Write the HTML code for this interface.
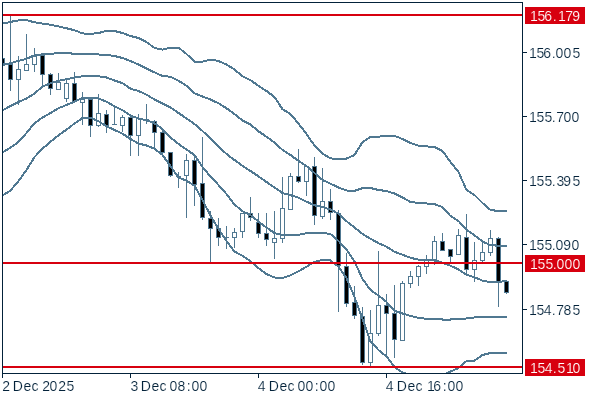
<!DOCTYPE html>
<html><head><meta charset="utf-8"><style>
html,body{margin:0;padding:0;background:#fff;width:600px;height:400px;overflow:hidden;}
svg{display:block;will-change:transform;}
text{font-family:"Liberation Sans",sans-serif;}
</style></head><body>
<svg width="600" height="400" viewBox="0 0 600 400">
<rect width="600" height="400" fill="#ffffff"/>
<defs><clipPath id="c"><rect x="3" y="3" width="519" height="370"/></clipPath></defs>
<g clip-path="url(#c)">
<rect x="2" y="56" width="1" height="11" fill="#507891"/>
<rect x="0" y="58" width="5" height="6" fill="#507891"/>
<rect x="1" y="59" width="3" height="4" fill="#000000"/>
<rect x="10" y="16" width="1" height="75" fill="#507891"/>
<rect x="8" y="64" width="5" height="16" fill="#507891"/>
<rect x="9" y="65" width="3" height="14" fill="#000000"/>
<rect x="18" y="56" width="1" height="49" fill="#507891"/>
<rect x="16" y="69" width="5" height="11" fill="#507891"/>
<rect x="17" y="70" width="3" height="9" fill="#ffffff"/>
<rect x="26" y="34" width="1" height="37" fill="#507891"/>
<rect x="24" y="64" width="5" height="7" fill="#507891"/>
<rect x="25" y="65" width="3" height="5" fill="#ffffff"/>
<rect x="34" y="48" width="1" height="24" fill="#507891"/>
<rect x="32" y="56" width="5" height="9" fill="#507891"/>
<rect x="33" y="57" width="3" height="7" fill="#ffffff"/>
<rect x="42" y="54" width="1" height="32" fill="#507891"/>
<rect x="40" y="55" width="5" height="20" fill="#507891"/>
<rect x="41" y="56" width="3" height="18" fill="#000000"/>
<rect x="50" y="73" width="1" height="22" fill="#507891"/>
<rect x="48" y="74" width="5" height="15" fill="#507891"/>
<rect x="49" y="75" width="3" height="13" fill="#000000"/>
<rect x="58" y="73" width="1" height="17" fill="#507891"/>
<rect x="56" y="82" width="5" height="8" fill="#507891"/>
<rect x="57" y="83" width="3" height="6" fill="#ffffff"/>
<rect x="66" y="80" width="1" height="22" fill="#507891"/>
<rect x="64" y="83" width="5" height="16" fill="#507891"/>
<rect x="65" y="84" width="3" height="14" fill="#ffffff"/>
<rect x="74" y="72" width="1" height="31" fill="#507891"/>
<rect x="72" y="83" width="5" height="19" fill="#507891"/>
<rect x="73" y="84" width="3" height="17" fill="#000000"/>
<rect x="82" y="92" width="1" height="33" fill="#507891"/>
<rect x="80" y="99" width="5" height="4" fill="#507891"/>
<rect x="81" y="100" width="3" height="2" fill="#ffffff"/>
<rect x="90" y="99" width="1" height="38" fill="#507891"/>
<rect x="88" y="99" width="5" height="27" fill="#507891"/>
<rect x="89" y="100" width="3" height="25" fill="#000000"/>
<rect x="98" y="94" width="1" height="33" fill="#507891"/>
<rect x="96" y="113" width="5" height="13" fill="#507891"/>
<rect x="97" y="114" width="3" height="11" fill="#ffffff"/>
<rect x="106" y="110" width="1" height="23" fill="#507891"/>
<rect x="104" y="114" width="5" height="12" fill="#507891"/>
<rect x="105" y="115" width="3" height="10" fill="#000000"/>
<rect x="114" y="107" width="1" height="18" fill="#507891"/>
<rect x="112" y="124" width="5" height="1" fill="#507891"/>
<rect x="122" y="115" width="1" height="17" fill="#507891"/>
<rect x="120" y="117" width="5" height="9" fill="#507891"/>
<rect x="121" y="118" width="3" height="7" fill="#ffffff"/>
<rect x="130" y="116" width="1" height="40" fill="#507891"/>
<rect x="128" y="117" width="5" height="19" fill="#507891"/>
<rect x="129" y="118" width="3" height="17" fill="#000000"/>
<rect x="138" y="114" width="1" height="42" fill="#507891"/>
<rect x="136" y="118" width="5" height="18" fill="#507891"/>
<rect x="137" y="119" width="3" height="16" fill="#ffffff"/>
<rect x="146" y="104" width="1" height="20" fill="#507891"/>
<rect x="144" y="119" width="5" height="1" fill="#507891"/>
<rect x="154" y="120" width="1" height="29" fill="#507891"/>
<rect x="152" y="121" width="5" height="12" fill="#507891"/>
<rect x="153" y="122" width="3" height="10" fill="#000000"/>
<rect x="162" y="130" width="1" height="25" fill="#507891"/>
<rect x="160" y="132" width="5" height="21" fill="#507891"/>
<rect x="161" y="133" width="3" height="19" fill="#000000"/>
<rect x="170" y="152" width="1" height="25" fill="#507891"/>
<rect x="168" y="152" width="5" height="24" fill="#507891"/>
<rect x="169" y="153" width="3" height="22" fill="#000000"/>
<rect x="178" y="172" width="1" height="16" fill="#507891"/>
<rect x="176" y="176" width="5" height="1" fill="#507891"/>
<rect x="186" y="154" width="1" height="64" fill="#507891"/>
<rect x="184" y="160" width="5" height="16" fill="#507891"/>
<rect x="185" y="161" width="3" height="14" fill="#ffffff"/>
<rect x="194" y="154" width="1" height="52" fill="#507891"/>
<rect x="192" y="160" width="5" height="25" fill="#507891"/>
<rect x="193" y="161" width="3" height="23" fill="#000000"/>
<rect x="202" y="137" width="1" height="83" fill="#507891"/>
<rect x="200" y="183" width="5" height="35" fill="#507891"/>
<rect x="201" y="184" width="3" height="33" fill="#000000"/>
<rect x="210" y="211" width="1" height="52" fill="#507891"/>
<rect x="208" y="218" width="5" height="11" fill="#507891"/>
<rect x="209" y="219" width="3" height="9" fill="#000000"/>
<rect x="218" y="218" width="1" height="28" fill="#507891"/>
<rect x="216" y="228" width="5" height="10" fill="#507891"/>
<rect x="217" y="229" width="3" height="8" fill="#000000"/>
<rect x="226" y="226" width="1" height="23" fill="#507891"/>
<rect x="224" y="237" width="5" height="1" fill="#507891"/>
<rect x="234" y="228" width="1" height="20" fill="#507891"/>
<rect x="232" y="232" width="5" height="6" fill="#507891"/>
<rect x="233" y="233" width="3" height="4" fill="#ffffff"/>
<rect x="242" y="213" width="1" height="25" fill="#507891"/>
<rect x="240" y="213" width="5" height="19" fill="#507891"/>
<rect x="241" y="214" width="3" height="17" fill="#ffffff"/>
<rect x="250" y="197" width="1" height="24" fill="#507891"/>
<rect x="248" y="213" width="5" height="5" fill="#507891"/>
<rect x="249" y="214" width="3" height="3" fill="#000000"/>
<rect x="258" y="213" width="1" height="25" fill="#507891"/>
<rect x="256" y="222" width="5" height="12" fill="#507891"/>
<rect x="257" y="223" width="3" height="10" fill="#000000"/>
<rect x="266" y="213" width="1" height="33" fill="#507891"/>
<rect x="264" y="233" width="5" height="7" fill="#507891"/>
<rect x="265" y="234" width="3" height="5" fill="#000000"/>
<rect x="274" y="211" width="1" height="48" fill="#507891"/>
<rect x="272" y="238" width="5" height="5" fill="#507891"/>
<rect x="273" y="239" width="3" height="3" fill="#ffffff"/>
<rect x="282" y="177" width="1" height="66" fill="#507891"/>
<rect x="280" y="208" width="5" height="31" fill="#507891"/>
<rect x="281" y="209" width="3" height="29" fill="#ffffff"/>
<rect x="290" y="173" width="1" height="37" fill="#507891"/>
<rect x="288" y="176" width="5" height="34" fill="#507891"/>
<rect x="289" y="177" width="3" height="32" fill="#ffffff"/>
<rect x="298" y="149" width="1" height="34" fill="#507891"/>
<rect x="296" y="176" width="5" height="6" fill="#507891"/>
<rect x="297" y="177" width="3" height="4" fill="#000000"/>
<rect x="306" y="166" width="1" height="30" fill="#507891"/>
<rect x="304" y="166" width="5" height="16" fill="#507891"/>
<rect x="305" y="167" width="3" height="14" fill="#ffffff"/>
<rect x="314" y="157" width="1" height="68" fill="#507891"/>
<rect x="312" y="166" width="5" height="50" fill="#507891"/>
<rect x="313" y="167" width="3" height="48" fill="#000000"/>
<rect x="322" y="168" width="1" height="51" fill="#507891"/>
<rect x="320" y="201" width="5" height="16" fill="#507891"/>
<rect x="321" y="202" width="3" height="14" fill="#ffffff"/>
<rect x="330" y="189" width="1" height="31" fill="#507891"/>
<rect x="328" y="201" width="5" height="12" fill="#507891"/>
<rect x="329" y="202" width="3" height="10" fill="#000000"/>
<rect x="338" y="210" width="1" height="102" fill="#507891"/>
<rect x="336" y="213" width="5" height="53" fill="#507891"/>
<rect x="337" y="214" width="3" height="51" fill="#000000"/>
<rect x="346" y="253" width="1" height="54" fill="#507891"/>
<rect x="344" y="266" width="5" height="38" fill="#507891"/>
<rect x="345" y="267" width="3" height="36" fill="#000000"/>
<rect x="354" y="286" width="1" height="33" fill="#507891"/>
<rect x="352" y="302" width="5" height="14" fill="#507891"/>
<rect x="353" y="303" width="3" height="12" fill="#000000"/>
<rect x="362" y="307" width="1" height="58" fill="#507891"/>
<rect x="360" y="316" width="5" height="47" fill="#507891"/>
<rect x="361" y="317" width="3" height="45" fill="#000000"/>
<rect x="370" y="310" width="1" height="57" fill="#507891"/>
<rect x="368" y="333" width="5" height="30" fill="#507891"/>
<rect x="369" y="334" width="3" height="28" fill="#ffffff"/>
<rect x="378" y="251" width="1" height="85" fill="#507891"/>
<rect x="376" y="305" width="5" height="29" fill="#507891"/>
<rect x="377" y="306" width="3" height="27" fill="#ffffff"/>
<rect x="386" y="294" width="1" height="64" fill="#507891"/>
<rect x="384" y="305" width="5" height="9" fill="#507891"/>
<rect x="385" y="306" width="3" height="7" fill="#000000"/>
<rect x="394" y="285" width="1" height="73" fill="#507891"/>
<rect x="392" y="313" width="5" height="27" fill="#507891"/>
<rect x="393" y="314" width="3" height="25" fill="#000000"/>
<rect x="402" y="281" width="1" height="60" fill="#507891"/>
<rect x="400" y="283" width="5" height="58" fill="#507891"/>
<rect x="401" y="284" width="3" height="56" fill="#ffffff"/>
<rect x="410" y="271" width="1" height="17" fill="#507891"/>
<rect x="408" y="276" width="5" height="8" fill="#507891"/>
<rect x="409" y="277" width="3" height="6" fill="#ffffff"/>
<rect x="418" y="265" width="1" height="21" fill="#507891"/>
<rect x="416" y="266" width="5" height="11" fill="#507891"/>
<rect x="417" y="267" width="3" height="9" fill="#ffffff"/>
<rect x="426" y="255" width="1" height="19" fill="#507891"/>
<rect x="424" y="259" width="5" height="8" fill="#507891"/>
<rect x="425" y="260" width="3" height="6" fill="#ffffff"/>
<rect x="434" y="236" width="1" height="29" fill="#507891"/>
<rect x="432" y="241" width="5" height="19" fill="#507891"/>
<rect x="433" y="242" width="3" height="17" fill="#ffffff"/>
<rect x="442" y="233" width="1" height="18" fill="#507891"/>
<rect x="440" y="241" width="5" height="10" fill="#507891"/>
<rect x="441" y="242" width="3" height="8" fill="#000000"/>
<rect x="450" y="249" width="1" height="14" fill="#507891"/>
<rect x="448" y="249" width="5" height="8" fill="#507891"/>
<rect x="449" y="250" width="3" height="6" fill="#000000"/>
<rect x="458" y="229" width="1" height="26" fill="#507891"/>
<rect x="456" y="235" width="5" height="20" fill="#507891"/>
<rect x="457" y="236" width="3" height="18" fill="#ffffff"/>
<rect x="466" y="214" width="1" height="62" fill="#507891"/>
<rect x="464" y="237" width="5" height="33" fill="#507891"/>
<rect x="465" y="238" width="3" height="31" fill="#000000"/>
<rect x="474" y="242" width="1" height="40" fill="#507891"/>
<rect x="472" y="260" width="5" height="10" fill="#507891"/>
<rect x="473" y="261" width="3" height="8" fill="#ffffff"/>
<rect x="482" y="243" width="1" height="20" fill="#507891"/>
<rect x="480" y="252" width="5" height="9" fill="#507891"/>
<rect x="481" y="253" width="3" height="7" fill="#ffffff"/>
<rect x="490" y="230" width="1" height="26" fill="#507891"/>
<rect x="488" y="238" width="5" height="15" fill="#507891"/>
<rect x="489" y="239" width="3" height="13" fill="#ffffff"/>
<rect x="498" y="237" width="1" height="70" fill="#507891"/>
<rect x="496" y="238" width="5" height="44" fill="#507891"/>
<rect x="497" y="239" width="3" height="42" fill="#000000"/>
<rect x="506" y="280" width="1" height="14" fill="#507891"/>
<rect x="504" y="281" width="5" height="12" fill="#507891"/>
<rect x="505" y="282" width="3" height="10" fill="#000000"/>
<g shape-rendering="crispEdges">
<polyline points="2.5,23.6 10.5,21.9 18.5,20.4 26.5,20.2 34.5,22.3 42.5,23.6 50.5,24.7 58.5,26.4 66.5,28.3 74.5,30.2 82.5,33.4 90.5,33.9 98.5,33.1 106.5,30.7 114.5,31.0 122.5,33.0 130.5,36.0 138.5,38.0 146.5,42.0 154.5,48.0 162.5,49.6 170.5,47.6 178.5,47.6 186.5,54.0 194.5,61.6 202.5,61.6 210.5,59.6 218.5,61.0 226.5,64.5 234.5,69.5 242.5,76.3 250.5,80.2 258.5,85.8 266.5,91.0 274.5,97.0 282.5,109.3 290.5,114.0 298.5,123.6 306.5,134.0 314.5,145.6 322.5,153.6 330.5,158.4 338.5,159.0 346.5,158.6 354.5,155.0 362.5,142.0 370.5,137.0 378.5,136.6 386.5,136.0 394.5,135.8 402.5,139.0 410.5,143.0 418.5,145.6 426.5,146.4 434.5,147.0 442.5,151.0 450.5,162.0 458.5,172.0 466.5,190.0 474.5,195.0 482.5,203.0 490.5,210.0 498.5,211.0 506.5,211.0 507.2,211.0" fill="none" stroke="#507891" stroke-width="2" stroke-linejoin="miter"/>
<polyline points="2.5,65.0 10.5,63.2 18.5,60.8 26.5,58.8 34.5,55.2 42.5,54.3 50.5,53.8 58.5,53.2 66.5,53.0 74.5,53.8 82.5,54.3 90.5,54.4 98.5,54.5 106.5,55.0 114.5,56.0 122.5,58.0 130.5,61.0 138.5,64.5 146.5,68.4 154.5,72.4 162.5,76.0 170.5,76.7 178.5,80.8 186.5,85.8 194.5,93.3 202.5,96.5 210.5,99.5 218.5,103.3 226.5,108.3 234.5,114.0 242.5,120.5 250.5,124.5 258.5,131.3 266.5,136.7 274.5,142.5 282.5,150.0 290.5,155.0 298.5,161.0 306.5,166.0 314.5,173.0 322.5,180.0 330.5,183.7 338.5,187.5 346.5,190.5 354.5,190.8 362.5,188.2 370.5,188.0 378.5,190.0 386.5,191.0 394.5,193.5 402.5,197.5 410.5,202.0 418.5,203.0 426.5,203.5 434.5,204.2 442.5,207.0 450.5,216.0 458.5,221.0 466.5,229.6 474.5,235.3 482.5,241.5 490.5,245.2 498.5,245.7 506.5,245.7 507.2,245.7" fill="none" stroke="#507891" stroke-width="2" stroke-linejoin="miter"/>
<polyline points="2.5,110.3 10.5,106.0 18.5,102.0 26.5,98.5 34.5,93.5 42.5,86.5 50.5,83.3 58.5,80.8 66.5,79.2 74.5,77.5 82.5,76.2 90.5,75.7 98.5,76.3 106.5,77.5 114.5,80.5 122.5,83.2 130.5,88.7 138.5,91.0 146.5,94.7 154.5,99.5 162.5,103.5 170.5,107.5 178.5,113.0 186.5,118.4 194.5,124.0 202.5,131.0 210.5,138.5 218.5,146.3 226.5,154.0 234.5,160.0 242.5,165.8 250.5,171.0 258.5,176.3 266.5,182.0 274.5,187.5 282.5,193.0 290.5,195.2 298.5,197.7 306.5,201.7 314.5,205.3 322.5,207.0 330.5,209.5 338.5,213.7 346.5,221.2 354.5,227.5 362.5,234.0 370.5,238.7 378.5,243.2 386.5,246.7 394.5,251.8 402.5,254.8 410.5,257.8 418.5,259.7 426.5,260.2 434.5,260.2 442.5,262.7 450.5,265.7 458.5,269.5 466.5,274.8 474.5,277.2 482.5,280.6 490.5,282.1 498.5,281.7 506.5,281.3 507.2,281.3" fill="none" stroke="#507891" stroke-width="2" stroke-linejoin="miter"/>
<polyline points="2.5,152.6 10.5,147.5 18.5,142.0 26.5,133.0 34.5,123.2 42.5,117.5 50.5,113.0 58.5,108.2 66.5,105.0 74.5,101.6 82.5,97.8 90.5,97.6 98.5,98.5 106.5,101.6 114.5,106.3 122.5,110.2 130.5,115.5 138.5,118.5 146.5,120.3 154.5,123.3 162.5,129.2 170.5,137.5 178.5,144.0 186.5,149.6 194.5,155.0 202.5,167.0 210.5,176.5 218.5,185.0 226.5,194.0 234.5,204.5 242.5,211.2 250.5,215.0 258.5,221.6 266.5,227.6 274.5,233.0 282.5,235.2 290.5,235.2 298.5,234.8 306.5,233.3 314.5,232.7 322.5,233.0 330.5,234.0 338.5,241.0 346.5,249.5 354.5,261.5 362.5,279.0 370.5,290.0 378.5,295.5 386.5,302.0 394.5,310.8 402.5,313.5 410.5,316.0 418.5,317.8 426.5,318.8 434.5,319.3 442.5,319.5 450.5,319.5 458.5,319.2 466.5,318.5 474.5,317.5 482.5,317.2 490.5,317.0 498.5,316.8 506.5,316.7 507.2,316.7" fill="none" stroke="#507891" stroke-width="2" stroke-linejoin="miter"/>
<polyline points="2.5,195.5 10.5,190.5 18.5,181.0 26.5,170.0 34.5,157.0 42.5,148.7 50.5,141.7 58.5,135.3 66.5,129.6 74.5,123.5 82.5,118.0 90.5,117.7 98.5,121.2 106.5,126.2 114.5,130.0 122.5,133.7 130.5,139.0 138.5,143.5 146.5,145.5 154.5,148.8 162.5,155.0 170.5,166.2 178.5,177.5 186.5,180.7 194.5,185.7 202.5,200.0 210.5,215.5 218.5,229.0 226.5,241.0 234.5,251.5 242.5,255.8 250.5,261.3 258.5,268.2 266.5,274.0 274.5,277.5 282.5,278.0 290.5,275.3 298.5,271.3 306.5,266.7 314.5,262.0 322.5,259.7 330.5,260.5 338.5,266.7 346.5,278.0 354.5,297.0 362.5,319.0 370.5,341.5 378.5,350.0 386.5,356.5 394.5,367.0 402.5,372.5 410.5,375.0 418.5,376.0 426.5,376.0 434.5,376.0 442.5,375.0 450.5,371.5 458.5,368.0 466.5,361.0 474.5,360.7 482.5,355.0 490.5,353.0 498.5,352.8 506.5,352.8 507.2,352.8" fill="none" stroke="#507891" stroke-width="2" stroke-linejoin="miter"/>
</g>
<rect x="3" y="14" width="519" height="2" fill="#d7000f"/>
<rect x="3" y="262" width="519" height="2" fill="#d7000f"/>
<rect x="3" y="366" width="519" height="2" fill="#d7000f"/>
</g>
<!-- frame -->
<rect x="2" y="2" width="521" height="1" fill="#03223a"/>
<rect x="2" y="373" width="521" height="1" fill="#03223a"/>
<rect x="2" y="2" width="1" height="376" fill="#03223a"/>
<rect x="522" y="2" width="1" height="372" fill="#03223a"/>
<!-- time ticks -->
<rect x="130" y="374" width="1" height="4" fill="#03223a"/>
<rect x="258" y="374" width="1" height="4" fill="#03223a"/>
<rect x="386" y="374" width="1" height="4" fill="#03223a"/>
<!-- price ticks -->
<rect x="523" y="52" width="4" height="1" fill="#03223a"/>
<rect x="523" y="116" width="4" height="1" fill="#03223a"/>
<rect x="523" y="180" width="4" height="1" fill="#03223a"/>
<rect x="523" y="244" width="4" height="1" fill="#03223a"/>
<rect x="523" y="309" width="4" height="1" fill="#03223a"/>
<g font-size="14" fill="#03223a" stroke="#ffffff" stroke-width="0.15">
<text x="528.93" y="58">1</text><text x="536.44" y="58">5</text><text x="543.29" y="58">6</text><text x="551.72" y="58">.</text><text x="555.45" y="58">0</text><text x="563.45" y="58">0</text><text x="572.44" y="58">5</text>
<text x="528.93" y="122">1</text><text x="536.44" y="122">5</text><text x="544.44" y="122">5</text><text x="551.72" y="122">.</text><text x="556.28" y="122">7</text><text x="563.45" y="122">0</text><text x="571.45" y="122">0</text>
<text x="528.93" y="186">1</text><text x="536.44" y="186">5</text><text x="544.44" y="186">5</text><text x="551.72" y="186">.</text><text x="556.47" y="186">3</text><text x="563.34" y="186">9</text><text x="572.44" y="186">5</text>
<text x="528.93" y="250">1</text><text x="536.44" y="250">5</text><text x="544.44" y="250">5</text><text x="551.72" y="250">.</text><text x="555.45" y="250">0</text><text x="563.34" y="250">9</text><text x="571.45" y="250">0</text>
<text x="528.93" y="315">1</text><text x="536.44" y="315">5</text><text x="543.68" y="315">4</text><text x="551.72" y="315">.</text><text x="556.28" y="315">7</text><text x="563.39" y="315">8</text><text x="572.44" y="315">5</text>
<text x="2.30" y="391">2</text><text x="12.85" y="391">D</text><text x="23.41" y="391">e</text><text x="31.41" y="391">c</text><text x="42.30" y="391">2</text><text x="49.45" y="391">0</text><text x="58.30" y="391">2</text><text x="66.44" y="391">5</text>
<text x="130.47" y="391">3</text><text x="140.85" y="391">D</text><text x="151.41" y="391">e</text><text x="159.41" y="391">c</text><text x="169.45" y="391">0</text><text x="177.39" y="391">8</text><text x="186.72" y="391">:</text><text x="191.45" y="391">0</text><text x="199.45" y="391">0</text>
<text x="257.68" y="391">4</text><text x="268.85" y="391">D</text><text x="279.41" y="391">e</text><text x="287.41" y="391">c</text><text x="297.45" y="391">0</text><text x="305.45" y="391">0</text><text x="314.72" y="391">:</text><text x="319.45" y="391">0</text><text x="327.45" y="391">0</text>
<text x="385.68" y="391">4</text><text x="396.85" y="391">D</text><text x="407.41" y="391">e</text><text x="415.41" y="391">c</text><text x="426.93" y="391">1</text><text x="433.29" y="391">6</text><text x="442.72" y="391">:</text><text x="447.45" y="391">0</text><text x="455.45" y="391">0</text>
</g>
<rect x="525" y="7" width="60" height="17" fill="#d7000f"/>
<rect x="525" y="255" width="60" height="17" fill="#d7000f"/>
<rect x="525" y="359" width="60" height="17" fill="#d7000f"/>
<g font-size="14" fill="#ffffff" stroke="#d7000f" stroke-width="0.15">
<text x="529.93" y="21">1</text><text x="537.44" y="21">5</text><text x="544.29" y="21">6</text><text x="552.72" y="21">.</text><text x="557.93" y="21">1</text><text x="565.28" y="21">7</text><text x="572.34" y="21">9</text>
<text x="529.93" y="269">1</text><text x="537.44" y="269">5</text><text x="545.44" y="269">5</text><text x="552.72" y="269">.</text><text x="556.45" y="269">0</text><text x="564.45" y="269">0</text><text x="572.45" y="269">0</text>
<text x="529.93" y="373">1</text><text x="537.44" y="373">5</text><text x="544.68" y="373">4</text><text x="552.72" y="373">.</text><text x="557.44" y="373">5</text><text x="565.93" y="373">1</text><text x="572.45" y="373">0</text>
</g>
</svg>
</body></html>
